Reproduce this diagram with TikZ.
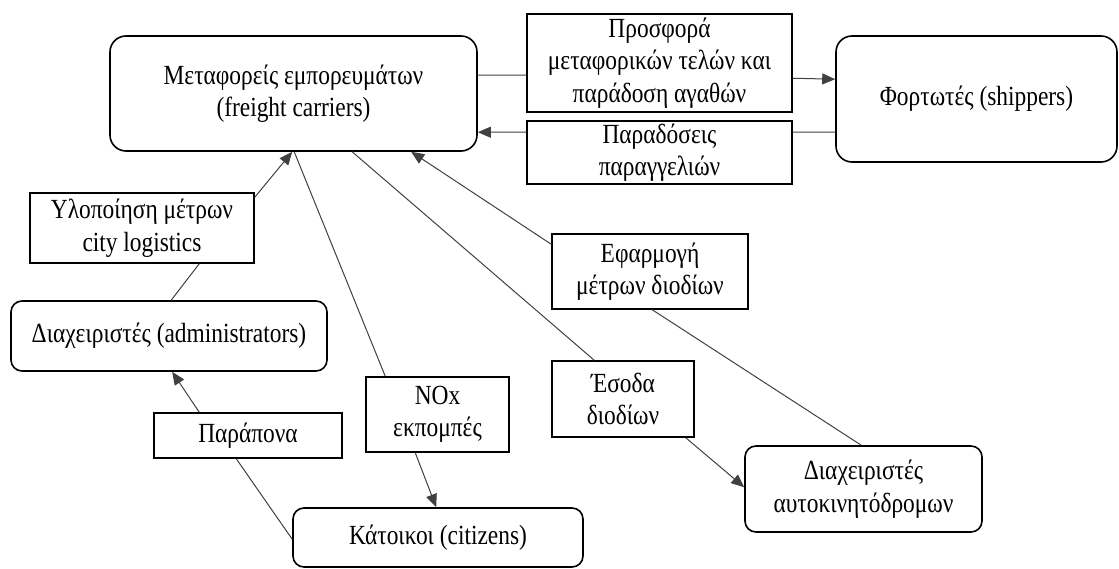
\documentclass[tikz,border=0pt]{standalone}
\usepackage{fontspec}
\setmainfont{Liberation Serif}[FakeStretch=0.845]
\usetikzlibrary{arrows.meta}

\begin{document}
\begin{tikzpicture}[x=1pt,y=-1pt,
  every node/.style={font=\fontsize{27.7}{32.5}\selectfont, align=center, inner sep=0pt},
  actor/.style={draw=black, line width=1.6pt, rounded corners=11pt},
  bigactor/.style={actor, rounded corners=16pt},
  flowbox/.style={draw=black, line width=1.5pt},
  link/.style={draw=black!75, line width=1pt},
  flow/.style={link, -{Triangle[length=13pt,width=11pt]}}
]
\useasboundingbox (0,0) rectangle (1119,569);

% actors (rounded boxes)
\node[bigactor, minimum width=367pt, minimum height=115pt] (fc)  at (293.5,93.5) {Μεταφορείς εμπορευμάτων\\(freight carriers)};
\node[bigactor, minimum width=281pt, minimum height=126pt] (shp) at (976.5,99) {Φορτωτές (shippers)};
\node[actor, minimum width=316pt, minimum height=70pt]  (adm) at (169,336) {Διαχειριστές (administrators)};
\node[actor, minimum width=290pt, minimum height=59pt]  (cit) at (438,537.5) {Κάτοικοι (citizens)};
\node[actor, minimum width=237pt, minimum height=86pt]  (road) at (863.5,489) {Διαχειριστές\\αυτοκινητόδρομων};

% flows (square boxes)
\node[flowbox, minimum width=265pt, minimum height=98pt] (pro) at (659.5,63) {Προσφορά\\μεταφορικών τελών και\\παράδοση αγαθών};
\node[flowbox, minimum width=265pt, minimum height=63pt] (par) at (659.5,152.5) {Παραδόσεις\\παραγγελιών};
\node[flowbox, minimum width=224pt, minimum height=70pt] (ylo) at (142,228) {Υλοποίηση μέτρων\\city logistics};
\node[flowbox, minimum width=188pt, minimum height=45pt] (pap) at (248,435.5) {Παράπονα};
\node[flowbox, minimum width=143pt, minimum height=75pt] (nox) at (437.5,414.5) {NOx\\εκπομπές};
\node[flowbox, minimum width=196pt, minimum height=75pt] (efa) at (650,271.5) {Εφαρμογή\\μέτρων διοδίων};
\node[flowbox, minimum width=142pt, minimum height=76pt] (eso) at (623,399) {Έσοδα\\διοδίων};

% carriers <-> shippers
\draw[link] ([yshift=-40pt]fc.north east) -- ([yshift=-62pt]pro.north west);
\draw[flow] ([yshift=-65pt]pro.north east) -- ([yshift=-44pt]shp.north west);
\draw[link] ([yshift=-97pt]shp.north west) -- ([yshift=-12pt]par.north east);
\draw[flow] ([yshift=-12pt]par.north west) -- ([yshift=-97pt]fc.north east);

% administrators -> carriers
\draw[flow] ([yshift=-5pt]ylo.north east) -- ([xshift=183pt]fc.south west);
\draw[link] ([xshift=161pt]adm.north west) -- ([xshift=170pt]ylo.south west);

% citizens -> administrators
\draw[flow] ([xshift=46pt]pap.north west) -- ([xshift=162pt]adm.south west);
\draw[link] ([yshift=-32pt]cit.north west) -- ([xshift=83pt]pap.south west);

% carriers -> citizens
\draw[link] ([xshift=185pt]fc.south west) -- ([xshift=20pt]nox.north west);
\draw[flow] ([xshift=50pt]nox.south west) -- ([xshift=144pt]cit.north west);

% carriers <-> motorway operators
\draw[link] ([xshift=243pt]fc.south west) -- ([xshift=43pt]eso.north west);
\draw[flow] ([xshift=-9pt]eso.south east) -- ([yshift=-42pt]road.north west);
\draw[link] ([xshift=117pt]road.north west) -- ([xshift=101pt]efa.south west);
\draw[flow] ([yshift=-11pt]efa.north west) -- ([xshift=302pt]fc.south west);
\end{tikzpicture}
\end{document}
